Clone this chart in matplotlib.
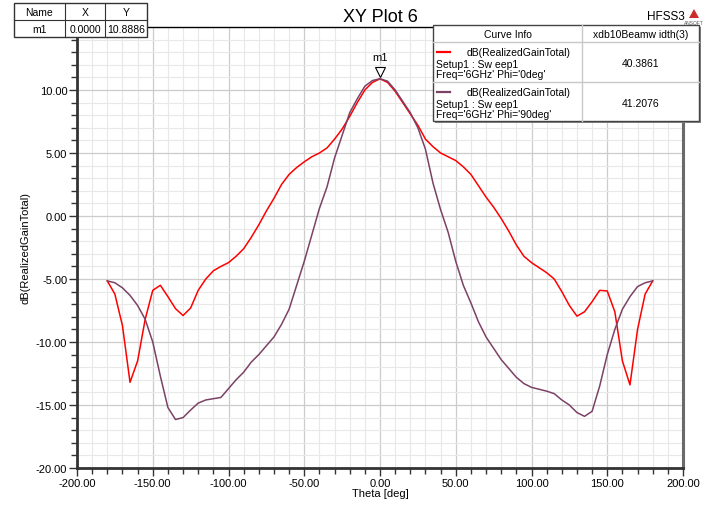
import numpy as np
import matplotlib.pyplot as plt
from matplotlib.patches import Rectangle, Polygon
from matplotlib.ticker import MultipleLocator, FormatStrFormatter

plt.rcParams['font.family'] = ['Liberation Sans', 'DejaVu Sans']

# ---------------------------------------------------------
# data (every 5 deg)
# ---------------------------------------------------------
theta = list(range(-180, 185, 5))

gain_phi0 = [
    -5.15, -6.2, -8.7, -13.2, -11.5, -8.2, -5.9, -5.5, -6.4, -7.35,
    -7.9, -7.3, -5.9, -5.0, -4.35, -4.0, -3.7, -3.2, -2.6, -1.7,
    -0.7, 0.4, 1.4, 2.5, 3.3, 3.85, 4.3, 4.7, 5.0, 5.4,
    6.1, 6.9, 7.9, 9.0, 10.0, 10.6, 10.89, 10.6, 9.9, 9.0,
    8.1, 7.2, 6.1, 5.5, 5.0, 4.7, 4.4, 3.9, 3.3, 2.4,
    1.5, 0.7, -0.2, -1.2, -2.3, -3.2, -3.7, -4.1, -4.5, -5.0,
    -6.0, -7.1, -7.95, -7.6, -6.8, -5.9, -5.95, -7.6, -11.5, -13.4,
    -9.0, -6.2, -5.15,
]

gain_phi90 = [
    -5.15, -5.3, -5.7, -6.3, -7.1, -8.2, -10.0, -12.7, -15.2, -16.15,
    -16.0, -15.4, -14.85, -14.6, -14.5, -14.4, -13.7, -13.0, -12.4, -11.6,
    -11.0, -10.3, -9.6, -8.6, -7.4, -5.5, -3.6, -1.5, 0.6, 2.3,
    4.6, 6.4, 8.2, 9.3, 10.3, 10.75, 10.89, 10.7, 10.0, 9.1,
    8.2, 7.0, 5.3, 2.6, 0.5, -1.3, -3.6, -5.5, -6.9, -8.4,
    -9.6, -10.5, -11.4, -12.1, -12.8, -13.3, -13.6, -13.75, -13.9, -14.1,
    -14.6, -15.0, -15.6, -15.9, -15.5, -13.5, -11.0, -9.0, -7.4, -6.4,
    -5.6, -5.3, -5.15,
]

curve_names = ["dB(RealizedGainTotal)", "dB(RealizedGainTotal)"]
curve_setup = ["Setup1 : Sw eep1", "Setup1 : Sw eep1"]
curve_freq = ["Freq='6GHz' Phi='0deg'", "Freq='6GHz' Phi='90deg'"]
beamwidth = ["40.3861", "41.2076"]
colors = ['#ff0000', '#7b4266']

marker_x = 0.0
marker_y = 10.8886

# ---------------------------------------------------------
# figure
# ---------------------------------------------------------
W, H = 718, 506
fig = plt.figure(figsize=(W / 100, H / 100), dpi=100)
fig.patch.set_facecolor('white')

ax = fig.add_axes([77 / W, 1 - 469 / H, 606 / W, 441 / H])

ax.plot(theta, gain_phi0, color=colors[0], linewidth=1.1, zorder=3)
ax.plot(theta, gain_phi90, color=colors[1], linewidth=1.1, zorder=3)

ax.set_xlim(-200, 200)
ax.set_ylim(-20, 15)
ax.set_xticks(np.arange(-200, 201, 50))
ax.set_yticks(np.arange(-20, 11, 5))
ax.xaxis.set_minor_locator(MultipleLocator(10))
ax.yaxis.set_minor_locator(MultipleLocator(1))
ax.xaxis.set_major_formatter(FormatStrFormatter('%.2f'))
ax.yaxis.set_major_formatter(FormatStrFormatter('%.2f'))

ax.grid(which='major', color='#cccccc', linewidth=0.9, zorder=0)
ax.grid(which='minor', color='#e8e8e8', linewidth=0.8, zorder=0)
ax.set_axisbelow(True)

ax.tick_params(which='major', direction='out', length=6, width=1,
               labelsize=8, color='#333333', pad=1)
ax.tick_params(which='minor', direction='out', length=4, width=1,
               color='#333333')
ax.tick_params(axis='x', which='both', top=False)
ax.tick_params(axis='y', which='both', right=False)

for s in ['left', 'bottom']:
    ax.spines[s].set_linewidth(2)
    ax.spines[s].set_color('#333333')
ax.spines['right'].set_linewidth(2.2)
ax.spines['right'].set_color('#6a6a6a')
ax.spines['top'].set_linewidth(1)
ax.spines['top'].set_color('#000000')

ax.set_xlabel('Theta [deg]', fontsize=8, labelpad=0)
ax.set_ylabel('dB(RealizedGainTotal)', fontsize=8, labelpad=4)

# marker m1 (hollow triangle just above the peak)
ax.plot([marker_x], [marker_y + 0.55], marker='v', markersize=7,
        markerfacecolor='white', markeredgecolor='black',
        markeredgewidth=0.8, linestyle='none', zorder=5)
ax.annotate('m1', xy=(marker_x, marker_y), xytext=(0, 12),
            textcoords='offset points', ha='center', va='bottom',
            fontsize=8)

# ---------------------------------------------------------
# overlay in pixel coordinates (title, tables)
# ---------------------------------------------------------
ov = fig.add_axes([0, 0, 1, 1], facecolor='none')
ov.set_xlim(0, W)
ov.set_ylim(H, 0)
ov.axis('off')

ov.text(380, 17, 'XY Plot 6', ha='center', va='center', fontsize=13)
ov.text(666, 17, 'HFSS3', ha='center', va='center', fontsize=8.5)
ov.add_patch(Polygon([[689, 19], [699, 19], [694, 10]], closed=True,
                     facecolor='#cc2b2b', edgecolor='none'))
ov.text(694, 23, 'ANSOFT', ha='center', va='center', fontsize=3.5,
        color='#555555')

# marker table
mx = [14, 65, 105, 147]
my = [4, 21, 38]
ov.add_patch(Rectangle((mx[0], my[0]), mx[-1] - mx[0], my[-1] - my[0],
                       facecolor='white', edgecolor='#333333', linewidth=1))
for x in mx[1:-1]:
    ov.plot([x, x], [my[0], my[-1]], color='#333333', linewidth=0.8)
ov.plot([mx[0], mx[-1]], [my[1], my[1]], color='#333333', linewidth=0.8)
for i, txt in enumerate(['Name', 'X', 'Y']):
    ov.text((mx[i] + mx[i + 1]) / 2, (my[0] + my[1]) / 2, txt,
            ha='center', va='center', fontsize=7.5)
for i, txt in enumerate(['m1', '%.4f' % marker_x, '%.4f' % marker_y]):
    ov.text((mx[i] + mx[i + 1]) / 2, (my[1] + my[2]) / 2, txt,
            ha='center', va='center', fontsize=7.5)

# curve info table
lx0, lx1, lx2 = 433, 582, 699
ly = [26, 43, 83, 122]
ov.add_patch(Rectangle((lx0 + 2, ly[0] + 2), lx2 - lx0, ly[-1] - ly[0],
                       facecolor='#888888', edgecolor='none'))
ov.add_patch(Rectangle((lx0, ly[0]), lx2 - lx0, ly[-1] - ly[0],
                       facecolor='white', edgecolor='#444444', linewidth=1))
ov.plot([lx1, lx1], [ly[0], ly[-1]], color='#c8c8c8', linewidth=1)
ov.plot([lx0, lx2], [ly[1], ly[1]], color='#c8c8c8', linewidth=1)
ov.plot([lx0, lx2], [ly[2], ly[2]], color='#c8c8c8', linewidth=1)
ov.text((lx0 + lx1) / 2, (ly[0] + ly[1]) / 2, 'Curve Info',
        ha='center', va='center', fontsize=7.5)
ov.text((lx1 + lx2) / 2, (ly[0] + ly[1]) / 2, 'xdb10Beamw idth(3)',
        ha='center', va='center', fontsize=7.5)
for i in range(2):
    top = ly[i + 1]
    ov.plot([437, 450], [top + 9.5, top + 9.5], color=colors[i],
            linewidth=1.6)
    ov.text(467, top + 9.5, curve_names[i], ha='left', va='center',
            fontsize=7.5)
    ov.text(436, top + 22, curve_setup[i], ha='left', va='center',
            fontsize=7.5)
    ov.text(436, top + 32, curve_freq[i], ha='left', va='center',
            fontsize=7.5)
    ov.text((lx1 + lx2) / 2, top + 21, beamwidth[i], ha='center',
            va='center', fontsize=7.5)

plt.savefig('out.png', dpi=100)
